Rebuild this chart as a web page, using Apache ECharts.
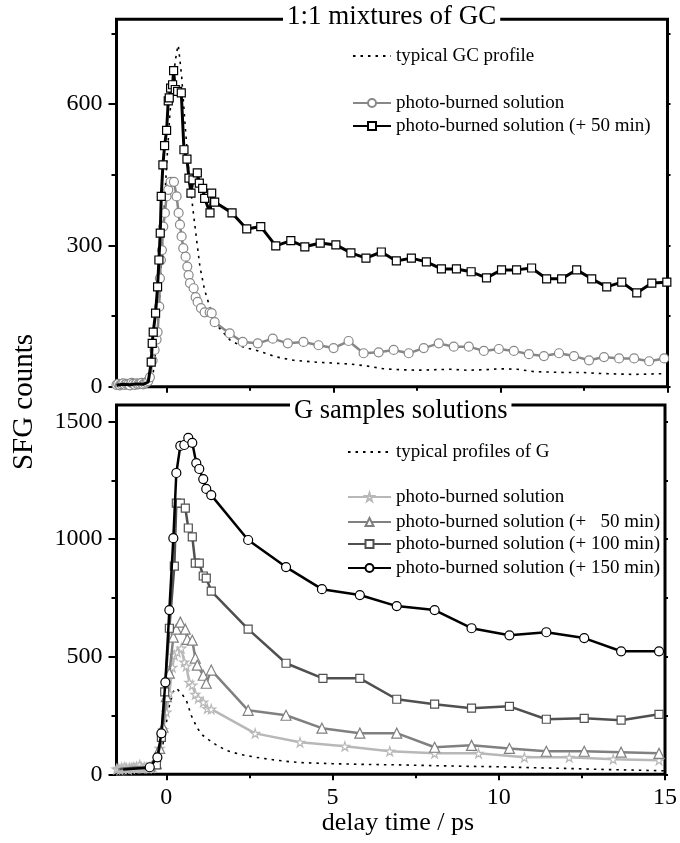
<!DOCTYPE html>
<html><head><meta charset="utf-8">
<script src="https://cdn.jsdelivr.net/npm/echarts@6/dist/echarts.min.js"></script>
<style>html,body{margin:0;padding:0;background:#fff}#c{width:680px;height:843px}</style>
</head><body><div id="c"></div>
<script>
// ---------- data: top panel (1:1 mixtures of GC) ----------
const gcProfileX = [-1.5,-1.0,-0.6,-0.4,-0.3,-0.2,-0.1,0,0.1,0.2,0.3,0.35,0.45,0.55,0.65,0.78,0.9,1.0,1.14,1.29,1.5,1.9,2.3,2.7,3.3,3.8,4.5,5.0,5.5,6.0,6.5,7.0,7.5,8.0,8.5,9.0,9.5,10.0,10.5,11.0,11.5,12.0,12.5,13.0,13.5,14.0,14.5,15.0];
const gcProfileY = [0,0,2,30,90,200,340,470,580,660,710,725,660,560,470,382,311,254,205,170,131,99,84,77,63,56,52,50,48,44,38,36,35,36,37,35,36,38,37,32,31,30,30,28,27,26,27,28];

const gcBurnedX = [-1.5,-1.45,-1.4,-1.35,-1.3,-1.25,-1.2,-1.15,-1.1,-1.05,-1.0,-0.95,-0.9,-0.85,-0.8,-0.75,-0.7,-0.65,-0.6,-0.55,-0.5,-0.42,-0.36,-0.3,-0.27,-0.22,-0.2,-0.17,-0.14,-0.1,-0.05,0.0,0.05,0.12,0.22,0.3,0.36,0.4,0.45,0.5,0.57,0.62,0.66,0.7,0.81,0.87,0.93,1.03,1.14,1.29,1.35,1.44,1.89,2.28,2.73,3.18,3.63,4.1,4.55,5.0,5.45,5.9,6.35,6.8,7.25,7.7,8.15,8.6,9.05,9.5,9.95,10.4,10.85,11.3,11.75,12.2,12.65,13.1,13.55,14.0,14.45,14.9];
const gcBurnedY = [4,6,3,5,7,4,6,5,3,8,6,4,7,5,6,8,5,7,9,12,20,56,78,100,116,170,230,269,290,340,369,404,418,435,435,404,369,344,319,294,276,255,237,220,209,190,180,167,158,158,156,137,113,95,92,102,92,95,88,82,97,71,73,78,71,82,92,85,85,76,80,76,69,65,71,65,56,63,60,60,54,60];

const gcBurned50X = [-1.5,-1.3,-1.1,-0.9,-0.7,-0.55,-0.46,-0.43,-0.4,-0.33,-0.27,-0.23,-0.19,-0.16,-0.11,-0.06,0,0.05,0.08,0.12,0.18,0.21,0.26,0.33,0.44,0.52,0.61,0.67,0.73,0.79,0.92,0.98,1.08,1.14,1.3,1.35,1.44,1.96,2.4,2.82,3.27,3.72,4.14,4.6,5.07,5.52,5.97,6.43,6.88,7.33,7.78,8.23,8.68,9.12,9.58,10.03,10.48,10.93,11.38,11.83,12.28,12.73,13.18,13.63,14.08,14.53,14.98];
const gcBurned50Y = [3,5,4,6,5,10,52,92,116,156,212,269,326,404,471,512,544,607,613,634,641,671,631,627,624,503,483,443,411,439,454,432,421,400,369,411,392,369,335,340,299,310,297,305,301,284,273,286,267,273,265,250,250,244,231,248,248,252,229,229,248,229,212,222,199,220,222];

// ---------- data: bottom panel (G samples solutions) ----------
const gProfileX = [-1.5,-0.5,-0.3,-0.2,-0.1,0.0,0.1,0.2,0.3,0.45,0.6,0.75,0.93,1.1,1.29,1.5,1.8,2.2,2.7,3.2,3.6,4.0,5,6,7,8,9,10,11,12,13,14,15];
const gProfileY = [0,0,20,60,130,220,300,350,366,345,315,250,196,165,145,125,102,85,72,62,55,50,45,42,40,37,34,32,28,25,21,18,15];

const gBurnedX = [-1.5,-1.45,-1.4,-1.35,-1.3,-1.25,-1.2,-1.15,-1.1,-1.05,-1.0,-0.95,-0.9,-0.85,-0.8,-0.75,-0.7,-0.65,-0.6,-0.55,-0.5,-0.45,-0.4,-0.3,-0.2,-0.1,0,0.09,0.18,0.24,0.33,0.45,0.54,0.6,0.69,0.78,0.87,0.96,1.11,1.23,1.35,2.67,4.02,5.37,6.72,8.07,9.39,10.77,12.12,13.44,14.82];
const gBurnedY = [22,25,20,28,24,30,26,22,28,25,30,26,32,28,40,30,26,30,28,26,30,28,34,50,110,190,264,345,455,506,519,536,477,460,391,379,340,323,307,279,277,174,136,119,98,89,89,72,72,64,60];

const gBurned50X = [-1.45,-1.25,-1.05,-0.85,-0.65,-0.45,-0.3,-0.2,-0.1,0.0,0.09,0.21,0.3,0.42,0.57,0.63,0.78,0.87,0.93,1.11,1.2,1.35,2.46,3.6,4.68,5.82,6.93,8.07,9.18,10.32,11.43,12.57,13.68,14.82];
const gBurned50Y = [20,26,24,30,28,32,45,110,200,330,430,583,617,647,617,574,570,494,464,421,387,443,272,251,196,175,175,115,123,110,98,98,94,89];

const gBurned100X = [-1.4,-1.0,-0.6,-0.3,-0.15,-0.05,0.09,0.24,0.3,0.42,0.57,0.66,0.78,0.87,0.99,1.11,1.2,1.35,2.46,3.6,4.71,5.82,6.93,8.07,9.18,10.32,11.43,12.57,13.68,14.82];
const gBurned100Y = [22,28,25,40,157,350,621,885,1153,1153,1132,1047,1009,898,898,843,834,779,617,472,408,408,319,298,281,289,234,238,230,255];

const gBurned150X = [-1.3,-0.9,-0.5,-0.27,-0.15,-0.03,0.09,0.21,0.3,0.42,0.54,0.66,0.78,0.9,0.99,1.11,1.2,1.35,2.46,3.6,4.68,5.82,6.93,8.07,9.18,10.32,11.43,12.57,13.68,14.82];
const gBurned150Y = [20,25,30,72,174,391,698,1004,1281,1396,1400,1430,1409,1323,1298,1255,1213,1187,996,881,787,762,715,698,621,591,604,579,523,523];

// ---------- ticks ----------
const xMajor = [0,5,10,15];
const xMinor = [2.5,7.5,12.5];
const yTopMajor = [0,300,600];
const yTopMinor = [150,450,750];
const yTopRight = [0,150,300,450,600,750];
const yBotMajor = [0,500,1000,1500];
const yBotMinor = [250,750,1250];
const yBotRight = [0,250,500,750,1000,1250,1500];

// legend labels
const labels = {
  gc0: 'typical GC profile',
  gc1: 'photo-burned solution',
  gc2: 'photo-burned solution (+ 50 min)',
  g0: 'typical profiles of G',
  g1: 'photo-burned solution',
  g2: 'photo-burned solution (+   50 min)',
  g3: 'photo-burned solution (+ 100 min)',
  g4: 'photo-burned solution (+ 150 min)'
};

const FONT = '"Liberation Serif", "Times New Roman", serif';
const zip = (xs, ys) => xs.map((x, i) => [x, ys[i]]);
const STAR = 'path://M50,0 L61,35 L98,35 L68,57 L79,91 L50,70 L21,91 L32,57 L2,35 L39,35 Z';

function xAxes(gi, showLabels) {
  return [
    {type:'value', gridIndex:gi, min:-1.5, max:15, position:'bottom',
     axisLine:{show:false, onZero:false}, splitLine:{show:false},
     axisTick:{show:true, length:6, lineStyle:{width:2, color:'#000'}, customValues:xMajor},
     axisLabel:{show:showLabels, customValues:xMajor, fontSize:24, fontFamily:FONT, color:'#000', margin:11}},
    {type:'value', gridIndex:gi, min:-1.5, max:15, position:'bottom',
     axisLine:{show:false, onZero:false}, splitLine:{show:false},
     axisTick:{show:true, length:4, lineStyle:{width:2, color:'#000'}, customValues:xMinor},
     axisLabel:{show:false}}
  ];
}
function yAxes(gi, max, major, minor, right) {
  return [
    {type:'value', gridIndex:gi, min:0, max:max, position:'left',
     axisLine:{show:false, onZero:false}, splitLine:{show:false},
     axisTick:{show:true, length:8, lineStyle:{width:2, color:'#000'}, customValues:major},
     axisLabel:{customValues:major, fontSize:24, fontFamily:FONT, color:'#000', margin:14, formatter: v => String(v)}},
    {type:'value', gridIndex:gi, min:0, max:max, position:'left',
     axisLine:{show:false, onZero:false}, splitLine:{show:false},
     axisTick:{show:true, length:5, lineStyle:{width:2, color:'#000'}, customValues:minor},
     axisLabel:{show:false}},
    {type:'value', gridIndex:gi, min:0, max:max, position:'right',
     axisLine:{show:false, onZero:false}, splitLine:{show:false},
     axisTick:{show:true, length:3, lineStyle:{width:2, color:'#000'}, customValues:right},
     axisLabel:{show:false}}
  ];
}

function lineSeries(name, xs, ys, xi, yi, opt) {
  return Object.assign({
    type:'line', name:name, xAxisIndex:xi, yAxisIndex:yi, data:zip(xs, ys),
    animation:false, smooth:false
  }, opt);
}
function dotted(name, xs, ys, xi, yi) {
  return lineSeries(name, xs, ys, xi, yi, {
    symbol:'none', z:2, lineStyle:{type:[2.5,5], width:1.6, color:'#000'}, itemStyle:{color:'#000'}
  });
}
// cut: symbols are hidden for points before this delay (baseline drawn by other series)
function marked(name, xs, ys, xi, yi, sym, size, col, lw, z, cut) {
  return lineSeries(name, xs, ys, xi, yi, {
    symbol:sym, showAllSymbol:true, z:z,
    symbolSize: v => (v[0] < cut ? 0 : size),
    lineStyle:{width:lw, color:col},
    itemStyle:{color:'#fff', borderColor:col, borderWidth:1.2}
  });
}

function legend(name, left, top, w, hideSym) {
  const item = {name:name};
  if (hideSym) item.itemStyle = {color:'rgba(0,0,0,0)', borderColor:'rgba(0,0,0,0)', borderWidth:0};
  return {
    data:[item], left:left, top:top, orient:'vertical', padding:0,
    itemWidth:w, itemHeight:10, selectedMode:false,
    formatter: n => labels[n],
    textStyle:{fontSize:19, fontFamily:FONT, color:'#000', lineHeight:20}
  };
}

const chart = echarts.init(document.getElementById('c'), null, {renderer:'canvas'});
chart.setOption({
  backgroundColor:'#fff',
  animation:false,
  grid:[
    {left:116.5, top:19.3, width:551, height:367.4, show:true, borderWidth:3, borderColor:'#000', backgroundColor:'rgba(0,0,0,0)'},
    {left:116.5, top:405, width:551, height:369.3, show:true, borderWidth:3, borderColor:'#000', backgroundColor:'rgba(0,0,0,0)'}
  ],
  xAxis: [].concat(xAxes(0, false), xAxes(1, true)),
  yAxis: [].concat(yAxes(0, 780, yTopMajor, yTopMinor, yTopRight), yAxes(1, 1570, yBotMajor, yBotMinor, yBotRight)),
  title:[
    {text:'1:1 mixtures of GC', left:283, top:2, backgroundColor:'#fff', padding:[1,4,1,4],
     textStyle:{fontSize:27, fontFamily:FONT, fontWeight:'normal', color:'#000'}},
    {text:'G samples solutions', left:290, top:397, backgroundColor:'#fff', padding:[1,4,1,4],
     textStyle:{fontSize:26.5, fontFamily:FONT, fontWeight:'normal', color:'#000'}}
  ],
  legend:[
    legend('gc0', 352, 46, 38, true),
    legend('gc1', 352, 93, 38, false),
    legend('gc2', 352, 116, 38, false),
    legend('g0', 347, 442, 43, true),
    legend('g1', 347, 487, 43, false),
    legend('g2', 347, 512, 43, false),
    legend('g3', 347, 534, 43, false),
    legend('g4', 347, 558, 43, false)
  ],
  graphic:[
    {type:'text', x:24, y:402, rotation:Math.PI/2, style:{text:'SFG counts', font:'29px ' + FONT, fill:'#000', align:'center', verticalAlign:'middle'}},
    {type:'text', x:398, y:823, style:{text:'delay time / ps', font:'26px ' + FONT, fill:'#000', align:'center', verticalAlign:'middle'}}
  ],
  series:[
    dotted('gc0', gcProfileX, gcProfileY, 0, 0),
    marked('gc1', gcBurnedX, gcBurnedY, 0, 0, 'circle', 9, '#888888', 2.5, 3, -9),
    marked('gc2', gcBurned50X, gcBurned50Y, 0, 0, 'rect', 8, '#000000', 3, 4, -0.5),
    dotted('g0', gProfileX, gProfileY, 2, 3),
    marked('g1', gBurnedX, gBurnedY, 2, 3, STAR, 9, '#b8b8b8', 2.5, 3, -9),
    marked('g2', gBurned50X, gBurned50Y, 2, 3, 'triangle', 10, '#808080', 2.5, 4, -0.35),
    marked('g3', gBurned100X, gBurned100Y, 2, 3, 'rect', 8, '#505050', 2.5, 5, -0.35),
    marked('g4', gBurned150X, gBurned150Y, 2, 3, 'circle', 9, '#000000', 2.5, 6, -0.6)
  ]
});
</script></body></html>
